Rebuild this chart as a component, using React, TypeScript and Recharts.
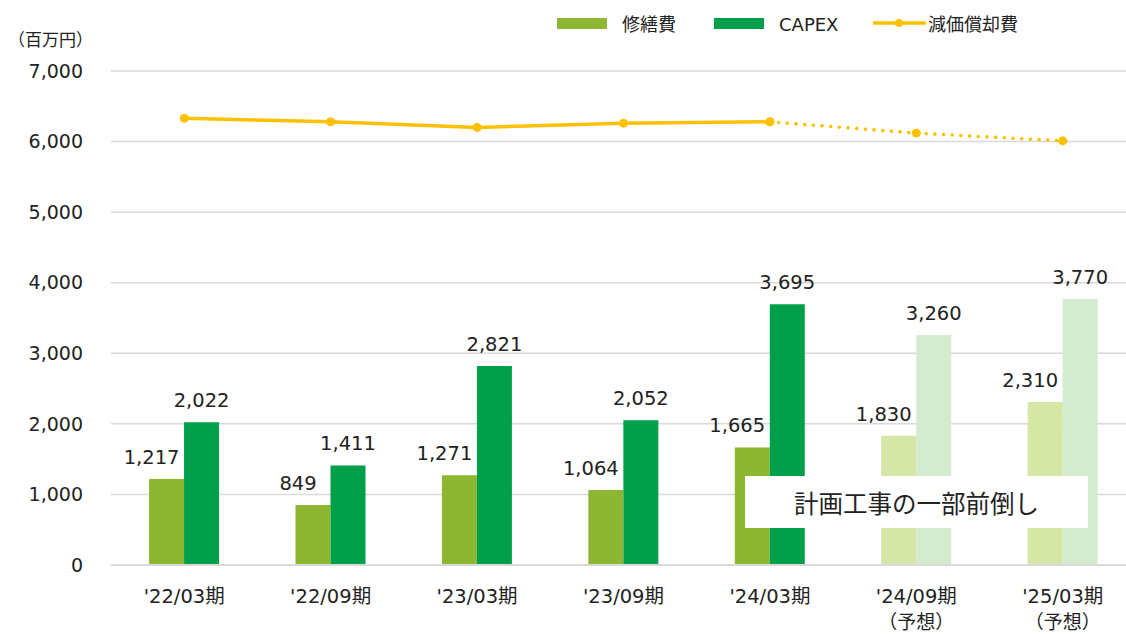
import { ComposedChart, Bar, Line, XAxis, YAxis, CartesianGrid, LabelList, Cell } from 'recharts';

const FONT = '"DejaVu Sans", "Noto Sans CJK JP", sans-serif';

const categories = ["'22/03期", "'22/09期", "'23/03期", "'23/09期", "'24/03期", "'24/09期", "'25/03期"];
const isForecast = [false, false, false, false, false, true, true];
const repairCost = [1217, 849, 1271, 1064, 1665, 1830, 2310];
const capex = [2022, 1411, 2821, 2052, 3695, 3260, 3770];
const depreciation = [6330, 6280, 6200, 6260, 6280, 6120, 6010];
const yTicks = [0, 1000, 2000, 3000, 4000, 5000, 6000, 7000];
// last actual period; the line turns dotted after it
const lastActual = 4;

const REPAIR = '#8DB733';
const REPAIR_F = '#D6E6A7';
const CAPEX = '#00A04A';
const CAPEX_F = '#D5EBCF';
const DEP = '#FFC000';
const TEXT = '#222';

const data = categories.map((c, i) => ({
  name: c,
  repair: repairCost[i],
  capex: capex[i],
  depSolid: i <= lastActual ? depreciation[i] : null,
  depDotted: i >= lastActual ? depreciation[i] : null,
}));

const fmt = (v: number) => String(v).replace(/\B(?=(\d{3})+(?!\d))/g, ',');

function CategoryTick({ x, y, payload }: any) {
  const i = categories.indexOf(payload.value);
  return (
    <g>
      <text x={x} y={y + 30} textAnchor="middle" fontSize={19.5} fill={TEXT} fontFamily={FONT}>
        {payload.value}
      </text>
      {isForecast[i] && (
        <text x={x} y={y + 56} textAnchor="middle" fontSize={19} fill={TEXT} fontFamily={FONT}>
          （予想）
        </text>
      )}
    </g>
  );
}

const barLabel = (shift: number) => (props: any) => {
  const { x, y, width, value } = props;
  return (
    <text x={x + width / 2 + shift} y={y - 15} textAnchor="middle" fontSize={19.5} fill={TEXT} fontFamily={FONT}>
      {fmt(value)}
    </text>
  );
};

function LegendBox() {
  return (
    <svg width={1126} height={45} style={{ position: 'absolute', left: 0, top: 0 }}>
      <rect x={557} y={18} width={50} height={11} fill={REPAIR} />
      <text x={622} y={24} dominantBaseline="central" fontSize={18} fill={TEXT} fontFamily={FONT}>修繕費</text>
      <rect x={714} y={18} width={50} height={11} fill={CAPEX} />
      <text x={779} y={24} dominantBaseline="central" fontSize={18} fill={TEXT} fontFamily={FONT}>CAPEX</text>
      <line x1={873} x2={926} y1={23} y2={23} stroke={DEP} strokeWidth={3.5} />
      <circle cx={899} cy={23} r={4} fill={DEP} />
      <text x={928} y={24} dominantBaseline="central" fontSize={18} fill={TEXT} fontFamily={FONT}>減価償却費</text>
    </svg>
  );
}

export default function App() {
  return (
    <div style={{ position: 'fixed', left: 0, top: 0, width: 1126, height: 634, overflow: 'hidden', background: '#fff', fontFamily: FONT }}>
      <div style={{ position: 'absolute', left: 0, top: 0 }}>
        <ComposedChart width={1136} height={634} data={data} margin={{ top: 71, right: 0, bottom: 0, left: 0 }} barGap={0} barCategoryGap="26%">
          <CartesianGrid vertical={false} stroke="#D9D9D9" strokeWidth={1.5} />
          <XAxis dataKey="name" height={69} tickLine={false} axisLine={{ stroke: '#D9D9D9', strokeWidth: 2 }} tick={<CategoryTick />} interval={0} />
          <YAxis width={111} domain={[0, 7000]} ticks={yTicks} tickLine={false} axisLine={false} tickMargin={22}
            tickFormatter={fmt} tick={{ fontSize: 19, fill: TEXT, fontFamily: FONT }} />
          <Bar dataKey="repair" isAnimationActive={false}>
            {data.map((d, i) => <Cell key={d.name} fill={isForecast[i] ? REPAIR_F : REPAIR} />)}
            <LabelList dataKey="repair" content={barLabel(-15)} />
          </Bar>
          <Bar dataKey="capex" isAnimationActive={false}>
            {data.map((d, i) => <Cell key={d.name} fill={isForecast[i] ? CAPEX_F : CAPEX} />)}
            <LabelList dataKey="capex" content={barLabel(0)} />
          </Bar>
          <Line dataKey="depSolid" stroke={DEP} strokeWidth={3.5} dot={{ r: 4, fill: DEP, stroke: DEP, strokeWidth: 1 }}
            activeDot={false} connectNulls={false} isAnimationActive={false} />
          <Line dataKey="depDotted" stroke={DEP} strokeWidth={3.5} strokeDasharray="0.1 8.6" strokeLinecap="round"
            dot={{ r: 4, fill: DEP, stroke: DEP, strokeWidth: 1, strokeDasharray: '' }} activeDot={false} isAnimationActive={false} />
        </ComposedChart>
      </div>
      <LegendBox />
      <div style={{ position: 'absolute', left: 8, top: 26, fontSize: 17, color: TEXT, whiteSpace: 'nowrap' }}>（百万円）</div>
      <div style={{ position: 'absolute', left: 745, top: 476, width: 343, height: 52, background: '#fff', display: 'flex', alignItems: 'center', justifyContent: 'center', fontSize: 24.5, color: TEXT }}>
        計画工事の一部前倒し
      </div>
    </div>
  );
}
